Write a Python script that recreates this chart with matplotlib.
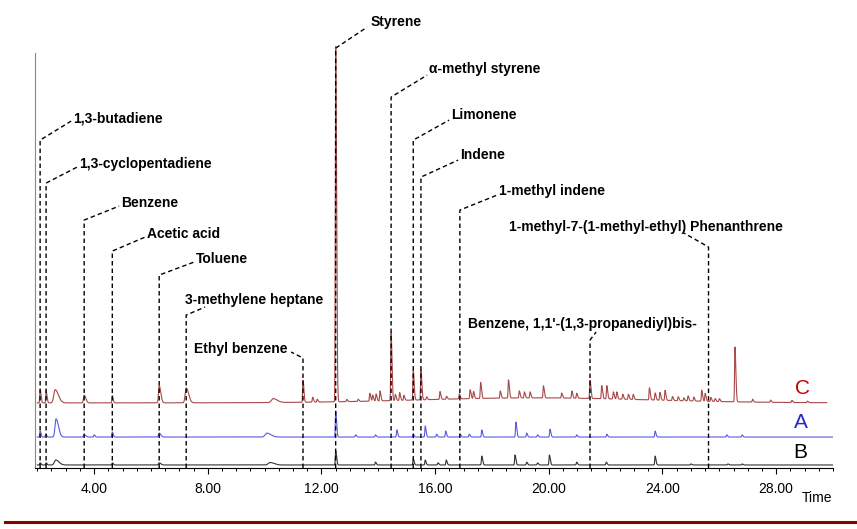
import numpy as np
import matplotlib.pyplot as plt
from matplotlib.lines import Line2D
from matplotlib.ticker import MultipleLocator, FormatStrFormatter

plt.rcParams['font.family'] = ['Liberation Sans', 'DejaVu Sans']

# Peak tables (retention time in min, relative height)
c_times = [2.10, 2.31, 2.63, 3.65, 4.64, 6.29, 7.24, 10.30, 11.35, 11.69, 11.85,
           12.50, 12.89, 13.29, 13.70, 13.80, 13.92, 14.06, 14.45, 14.60, 14.75,
           14.90, 15.23, 15.50, 15.70, 16.17, 16.40, 16.85, 17.23, 17.35, 17.60,
           18.29, 18.58, 18.96, 19.14, 19.34, 19.81, 20.45, 20.81, 20.98, 21.45,
           21.86, 22.04, 22.27, 22.39, 22.60, 22.80, 22.97, 23.54, 23.74, 23.91,
           24.09, 24.35, 24.55, 24.75, 24.90, 25.10, 25.38, 25.50, 25.70, 25.85,
           26.00, 26.55, 27.17, 27.80, 28.55, 29.10]
c_heights = [3.7, 3.4, 3.7, 2.2, 2.0, 4.8, 4.2, 1.1, 6.2, 1.4, 0.8,
             100.0, 0.6, 0.6, 2.2, 1.7, 2.0, 2.8, 19.0, 1.7, 2.2,
             1.4, 8.4, 8.4, 0.8, 2.2, 0.8, 1.4, 2.5, 2.0, 4.5,
             2.0, 5.1, 2.0, 1.7, 1.7, 3.4, 1.4, 2.0, 1.4, 5.1,
             3.7, 3.7, 2.0, 2.0, 1.4, 1.4, 1.4, 3.4, 2.0, 2.2,
             2.8, 1.1, 1.1, 0.8, 1.4, 1.1, 3.1, 2.2, 1.1, 0.8,
             0.8, 15.4, 0.8, 0.6, 0.6, 0.4]

a_times = [2.10, 2.30, 2.66, 3.65, 4.00, 4.64, 6.29, 10.08, 12.50, 13.20, 13.90,
           14.65, 15.23, 15.65, 16.05, 16.37, 16.88, 17.20, 17.64, 18.84, 19.22,
           19.60, 20.04, 20.98, 22.04, 23.74, 26.26, 26.80]
a_heights = [1.7, 0.8, 5.1, 0.6, 0.6, 1.4, 1.1, 1.1, 7.3, 0.6, 0.6,
             2.0, 0.8, 3.1, 0.8, 1.7, 0.8, 0.8, 2.0, 4.2, 1.1,
             0.6, 2.2, 0.6, 0.8, 1.7, 0.6, 0.6]

b_times = [2.10, 2.31, 2.65, 4.64, 6.29, 10.19, 12.50, 13.90, 15.23, 15.65, 16.10,
           16.39, 17.64, 18.81, 19.22, 19.60, 20.02, 20.98, 22.02, 23.74, 25.00,
           26.30, 26.80]
b_heights = [0.6, 0.6, 1.4, 0.6, 0.6, 0.7, 3.9, 0.8, 1.7, 1.4, 0.6,
             1.4, 2.5, 2.8, 0.8, 0.6, 2.8, 0.8, 0.8, 2.5, 0.3,
             0.3, 0.3]

# broad peaks (tailing) – time: width in min
broad = {2.63: 0.08, 2.66: 0.06, 2.65: 0.08, 7.24: 0.06, 6.29: 0.04,
         3.65: 0.04, 10.30: 0.10, 10.08: 0.10, 10.19: 0.10}

compounds = ["1,3-butadiene", "1,3-cyclopentadiene", "Benzene", "Acetic acid",
             "Toluene", "3-methylene heptane", "Ethyl benzene", "Styrene",
             "\u03b1-methyl styrene", "Limonene", "Indene", "1-methyl indene",
             "Benzene, 1,1'-(1,3-propanediyl)bis-",
             "1-methyl-7-(1-methyl-ethyl) Phenanthrene"]
compound_times = [2.10, 2.31, 3.65, 4.64, 6.29, 7.24, 11.35, 12.50,
                  14.45, 15.23, 15.50, 16.87, 21.45, 25.62]

# label layout in image pixels: knee y, leader end (x, y), text (x, y)
label_layout = [
    (140, (71, 121), (73, 118)), (183, (77, 167), (79, 164)),
    (220, (119, 206), (121, 203)), (251, (145, 237), (147, 234)),
    (275, (194, 262), (196, 259)), (315, (205, 307), (185, 300)),
    (358, (291, 352), (194, 349)), (48, (367, 27), (370, 22)),
    (97, (427, 75), (429, 69)), (140, (449, 120), (451, 115)),
    (177, (458, 160), (460, 155)), (210, (497, 195), (499, 191)),
    (340, (596, 332), (468, 324)), (247, (684, 233), (509, 227)),
]

W, H = 857, 529
fig = plt.figure(figsize=(W / 100, H / 100), dpi=100)
ax = fig.add_axes([35 / W, 61 / H, 798 / W, 468 / H])
ax.set_xlim(1.92, 30.0)
ax.set_ylim(0, 131.5)


def to_data(px, py):
    return 4 + (px - 94) / 28.42, (468 - py) / 3.56


def trace(t, times, heights, base):
    y = np.full_like(t, base)
    for tc, h in zip(times, heights):
        w = broad.get(tc, 0.022)
        sig = np.where(t < tc, w * 0.6, w * 1.4)
        y += h * np.exp(-0.5 * ((t - tc) / sig) ** 2)
    return y


t_red = np.linspace(2.0, 29.78, 9000)
t_all = np.linspace(2.0, 30.0, 9000)
red = trace(t_red, c_times, c_heights, 18.3)
red += 1.4 * np.exp(-0.5 * ((t_red - 19.5) / 4.0) ** 2)
blue = trace(t_all, a_times, a_heights, 8.7)
black = trace(t_all, b_times, b_heights, 0.85)

ax.plot(t_red, red, color='#a84848', lw=0.8)
ax.plot(t_all, blue, color='#5a5ae0', lw=0.8)
ax.plot(t_all, black, color='#333333', lw=0.8)

# leaders and labels
dash = (0, (3.2, 2.2))
for name, tc, (ky, (ex, ey), (tx, ty)) in zip(compounds, compound_times, label_layout):
    _, kyd = to_data(0, ky)
    exd, eyd = to_data(ex, ey)
    txd, tyd = to_data(tx, ty)
    ax.plot([tc, tc, exd], [0, kyd, eyd], color='black', lw=1.0,
            linestyle=dash, clip_on=False)
    ax.text(txd, tyd, name, ha='left', va='center', fontsize=10,
            fontweight='bold', clip_on=False)

for s in ['top', 'right']:
    ax.spines[s].set_visible(False)
ax.spines['left'].set_bounds(0, (468 - 53) / 3.56)
ax.spines['left'].set_color('#888888')
ax.spines['left'].set_linewidth(0.8)
ax.spines['bottom'].set_linewidth(0.8)
ax.set_yticks([])
ax.xaxis.set_major_locator(MultipleLocator(4))
ax.xaxis.set_major_formatter(FormatStrFormatter('%.2f'))
ax.xaxis.set_minor_locator(MultipleLocator(0.5))
ax.tick_params(axis='x', which='major', direction='out', length=4, width=0.8,
               pad=6, labelsize=10)
ax.tick_params(axis='x', which='minor', direction='out', length=2.5, width=0.7)

fig.text(817 / W, 1 - 498 / H, 'Time', ha='center', va='center', fontsize=10)
fig.text(802 / W, 1 - 388 / H, 'C', ha='center', va='center', fontsize=15, color='#c00000')
fig.text(801 / W, 1 - 422 / H, 'A', ha='center', va='center', fontsize=15, color='#2828c8')
fig.text(800 / W, 1 - 453 / H, 'B', ha='center', va='center', fontsize=15, color='black')

fig.add_artist(Line2D([5 / W, 1.0], [1 - 522 / H] * 2, color='#8b0000', lw=2.2,
                      transform=fig.transFigure))

fig.savefig('out.png', dpi=100)
